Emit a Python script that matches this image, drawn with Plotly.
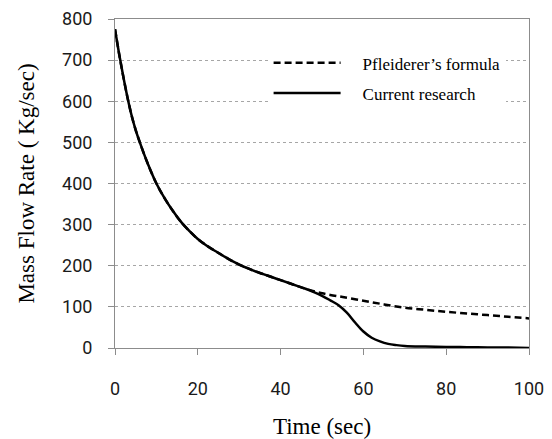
import plotly.graph_objects as go

time_current = [0, 1, 2, 3, 4, 5, 6, 8, 10, 12, 14, 16, 18, 20, 22, 24, 26, 28, 30, 32, 34, 36, 38, 40,
                42, 44, 46, 48, 50, 52, 54, 56, 58, 60, 62, 64, 66, 68, 70, 75, 80, 85, 90, 95, 100]
flow_current = [775, 715, 660, 610, 566, 530, 500, 446, 400, 364, 333, 306, 284, 265, 250, 237, 225, 213,
                203, 194, 186, 179, 172, 165, 158, 151, 144, 136, 127, 116, 104, 86, 62, 40, 25, 16, 10,
                7, 5, 3.5, 2.5, 2, 1.5, 1, 0]

time_pf = [0, 1, 2, 3, 4, 5, 6, 8, 10, 12, 14, 16, 18, 20, 22, 24, 26, 28, 30, 32, 34, 36, 38, 40,
           42, 44, 46, 48, 50, 52, 55, 60, 65, 70, 75, 80, 85, 90, 95, 100]
flow_pf = [775, 715, 660, 610, 566, 530, 500, 446, 400, 364, 333, 306, 284, 265, 250, 237, 225, 213,
           203, 194, 186, 179, 172, 165, 158, 151, 144, 138, 133, 129, 124, 115, 106, 98, 93, 88, 84,
           80, 76, 72]

x_ticks = [0, 20, 40, 60, 80, 100]
y_ticks = [0, 100, 200, 300, 400, 500, 600, 700, 800]

NB = "\u00a0"

fig = go.Figure()
fig.add_trace(go.Scatter(x=time_pf, y=flow_pf, mode="lines", name=NB * 4 + "Pfleiderer\u2019s formula",
                         line=dict(color="black", width=2.5, dash="7px,4px", shape="spline"),
                         legendgroup="a"))
fig.add_trace(go.Scatter(x=time_current, y=flow_current, mode="lines", name=NB * 4 + "Current research",
                         line=dict(color="black", width=2.5, shape="spline"),
                         legendgroup="b"))

axis_common = dict(showline=True, linecolor="#8c8c8c", linewidth=1, mirror=True,
                   ticks="outside", ticklen=6, tickcolor="#8c8c8c", automargin=False,
                   ticklabeloverflow="allow",
                   tickfont=dict(family="Roboto", size=18, color="#1a1a1a"),
                   zeroline=False)

fig.update_layout(
    width=544, height=431,
    margin=dict(l=107, r=23, t=11, b=91),
    paper_bgcolor="white", plot_bgcolor="white",
    xaxis=dict(range=[0, 100], tickvals=x_ticks, showgrid=False, ticklabelstandoff=18,
               title=dict(text="Time (sec)", font=dict(family="Liberation Serif", size=23, color="black"),
                          standoff=20),
               **axis_common),
    yaxis=dict(range=[0, 800], tickvals=y_ticks, showgrid=True, gridcolor="#a6a6a6", griddash="dot",
               gridwidth=1, ticklabelstandoff=12,
               title=dict(text="Mass Flow Rate ( Kg/sec)",
                          font=dict(family="Liberation Serif", size=23, color="black"), standoff=20),
               **axis_common),
    legend=dict(x=0.371, y=0.92, xanchor="left", yanchor="top", bgcolor="white",
                font=dict(family="Liberation Serif", size=17, color="black"),
                itemwidth=67, traceorder="grouped", tracegroupgap=5),
    showlegend=True,
)

fig.write_html("out.html")
